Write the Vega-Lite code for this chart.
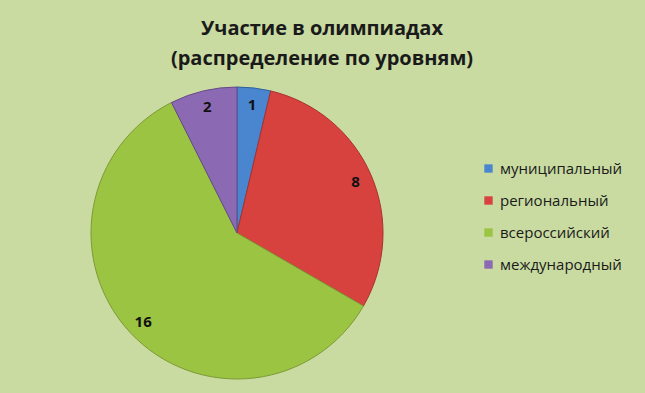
{
  "$schema": "https://vega.github.io/schema/vega-lite/v6.json",
  "width": 292,
  "height": 292,
  "autosize": "none",
  "padding": {"left": 91, "top": 87, "right": 262, "bottom": 14},
  "background": "#c9dba1",
  "config": {"view": {"stroke": null}},
  "title": {
    "text": ["Участие в олимпиадах", "(распределение по уровням)"],
    "font": "Open Sans",
    "fontSize": 20,
    "fontWeight": "bold",
    "color": "#1a1a1a",
    "lineHeight": 30,
    "anchor": "middle",
    "frame": "group",
    "dx": 85,
    "offset": 16
  },
  "data": {
    "values": [
      {"idx": 1, "level": "муниципальный", "count": 1},
      {"idx": 2, "level": "региональный", "count": 8},
      {"idx": 3, "level": "всероссийский", "count": 16},
      {"idx": 4, "level": "международный", "count": 2}
    ]
  },
  "encoding": {
    "theta": {"field": "count", "type": "quantitative", "stack": true},
    "order": {"field": "idx", "type": "quantitative"}
  },
  "layer": [
    {
      "mark": {"type": "arc", "strokeWidth": 1},
      "encoding": {
        "color": {
          "field": "level",
          "type": "nominal",
          "scale": {
            "domain": ["муниципальный", "региональный", "всероссийский", "международный"],
            "range": ["#4a86d0", "#d8423e", "#9cc443", "#8c69b3"]
          },
          "legend": {
            "title": null,
            "orient": "none",
            "legendX": 390,
            "legendY": 74,
            "symbolType": "square",
            "symbolSize": 70,
            "symbolStrokeWidth": 0,
            "labelFont": "Open Sans",
            "labelFontSize": 15,
            "labelColor": "#1a1a1a",
            "rowPadding": 16,
            "labelOffset": 4
          }
        },
        "stroke": {
          "field": "level",
          "type": "nominal",
          "scale": {
            "domain": ["муниципальный", "региональный", "всероссийский", "международный"],
            "range": ["#2f5f9a", "#a8322e", "#7d9a35", "#664a88"]
          },
          "legend": null
        }
      }
    },
    {
      "mark": {"type": "text", "radius": 129, "font": "Open Sans", "fontSize": 15, "fontWeight": "bold", "color": "#111111"},
      "encoding": {
        "text": {"field": "count", "type": "quantitative"}
      }
    }
  ]
}
